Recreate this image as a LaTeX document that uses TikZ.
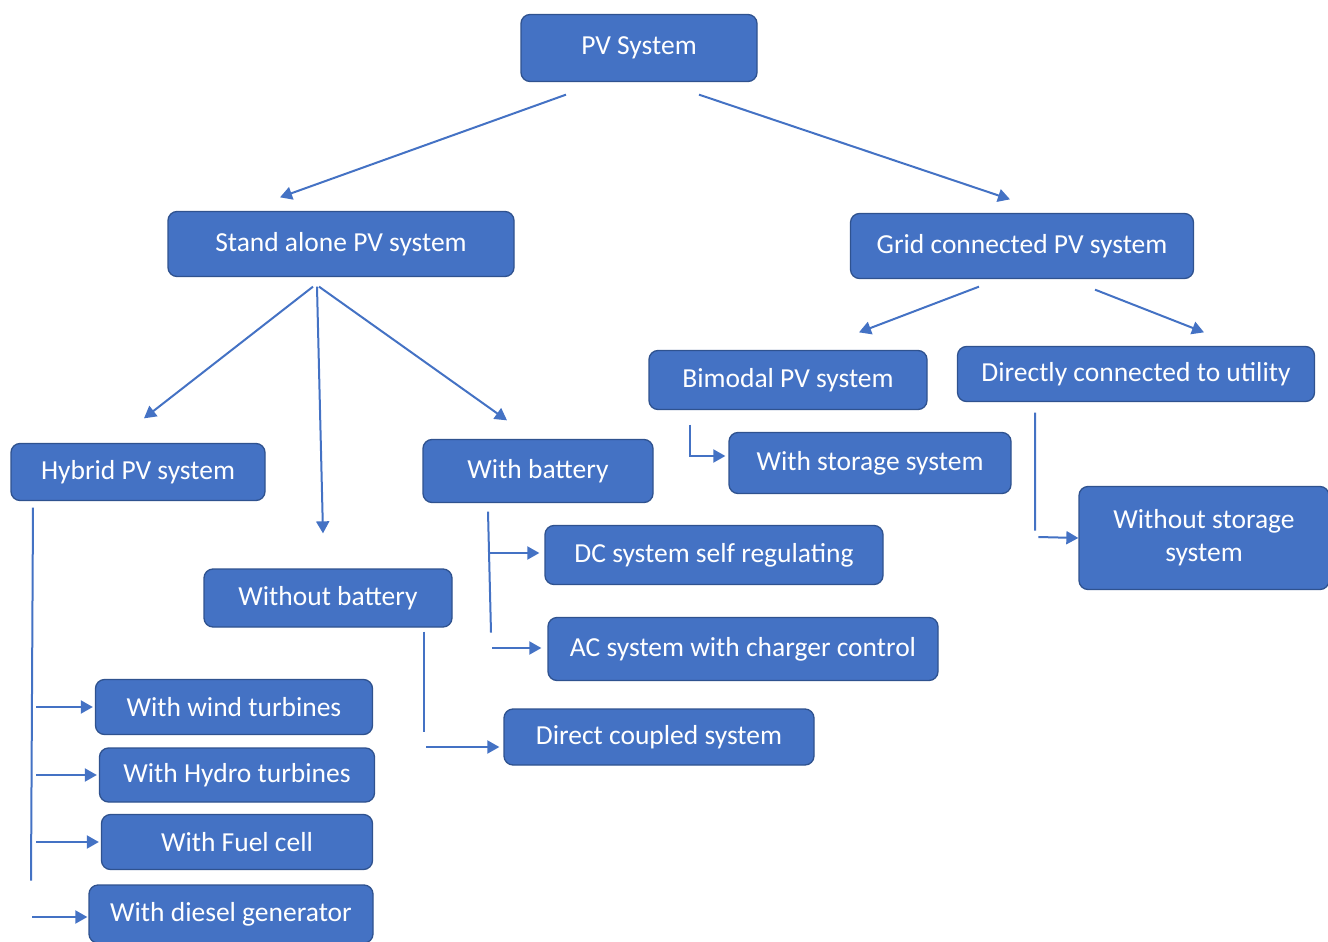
\documentclass[tikz,border=0pt]{standalone}
\usepackage{fontspec}
\setmainfont{Carlito}
\usepackage{tikz}
\usetikzlibrary{arrows.meta, positioning, calc}
\definecolor{boxblue}{RGB}{68, 114, 196}
\definecolor{edgeblue}{RGB}{47, 82, 143}

\begin{document}
\begin{tikzpicture}[x=1pt, y=-1pt, >={Triangle[length=12pt,width=13pt]},
  box/.style={draw=edgeblue, line width=1.3pt, fill=boxblue, rounded corners=9pt,
    text=white, font=\fontsize{27.5}{33}\selectfont, align=center, inner sep=2pt},
  link/.style={->, draw=boxblue, line width=2pt},
  bus/.style={draw=boxblue, line width=2pt}]
  \useasboundingbox (0,0) rectangle (1328,942);

  % Top level
  \node[box, minimum width=236pt, minimum height=67pt] (pv) at (639,48) {PV System};
  \node[box, minimum width=346pt, minimum height=65pt] (sa) at (341,244) {Stand alone PV system};
  \node[box, minimum width=343pt, minimum height=65pt] (grid) at (1022,246) {Grid connected PV system};

  % Grid connected branch
  \node[box, minimum width=278pt, minimum height=59pt] (bim) at (788,380) {Bimodal PV system};
  \node[box, minimum width=357pt, minimum height=55pt] (dir) at (1136,374) {Directly connected to utility};
  \node[box, minimum width=282pt, minimum height=61pt] (wss) at (870,463) {With storage system};
  \node[box, minimum width=250pt, minimum height=103pt] (woss) at (1204,538) {Without storage\\system};

  % Stand alone branch
  \node[box, minimum width=254pt, minimum height=57pt] (hyb) at (138,472) {Hybrid PV system};
  \node[box, minimum width=230pt, minimum height=63pt] (wb) at (538,471) {With battery};
  \node[box, minimum width=248pt, minimum height=58pt] (wob) at (328,598) {Without battery};
  \node[box, minimum width=338pt, minimum height=59pt] (dc) at (714,555) {DC system self regulating};
  \node[box, minimum width=390pt, minimum height=63pt] (ac) at (743,649) {AC system with charger control};
  \node[box, minimum width=310pt, minimum height=56pt] (dcs) at (659,737) {Direct coupled system};

  % Hybrid sources
  \node[box, minimum width=277pt, minimum height=55pt] (wind) at (234,707) {With wind turbines};
  \node[box, minimum width=275pt, minimum height=54pt] (hydro) at (237,775) {With Hydro turbines};
  \node[box, minimum width=271pt, minimum height=55pt] (fuel) at (237,842) {With Fuel cell};
  \node[box, minimum width=284pt, minimum height=58pt] (diesel) at (231,914) {With diesel generator};

  % Links from the top
  \draw[link] ($(pv.south)+(-73,12.5)$) -- ($(sa.north)+(-61,-13.5)$);
  \draw[link] ($(pv.south)+(60,12.5)$) -- ($(grid.north)+(-12,-13.5)$);

  % Stand alone to its three kinds
  \draw[link] ($(sa.south)+(-28,9.5)$) -- ($(hyb.north)+(6,-24.5)$);
  \draw[link] ($(sa.south)+(-24,9.5)$) -- ($(wob.north)+(-5,-35)$);
  \draw[link] ($(sa.south)+(-22,9.5)$) -- ($(wb.north)+(-31,-18.5)$);

  % Grid connected to its two kinds
  \draw[link] ($(grid.south)+(-43,7.5)$) -- ($(bim.north)+(71,-17.5)$);
  \draw[link] ($(grid.south)+(73,10.5)$) -- ($(dir.north)+(68,-13.5)$);

  % Elbow links
  \draw[link] ($(bim.south)+(-98,14.5)$) |- ($(wss.west)+(-3,-7)$);
  \draw[link] ($(dir.south)+(-101,10.5)$) -- ++(0,118) ($(woss.west)+(-40,-1)$) -- (woss.west);
  \draw[link] ($(wob.south)+(96,4)$) -- ++(0,100) ($(dcs.west)+(-77,10)$) -- ($(dcs.west)+(-4,10)$);

  % With battery bus
  \coordinate (wbbus) at ($(wb.south)+(-50,8.5)$);
  \draw[bus] (wbbus) -- ++(3,121);
  \draw[link] ($(dc.west)+(-55,-2)$) -- ($(dc.west)+(-5,-2)$);
  \draw[link] ($(ac.west)+(-55,-1)$) -- ($(ac.west)+(-6,-1)$);

  % Hybrid bus
  \coordinate (hybbus) at ($(hyb.south)+(-105,6.5)$);
  \draw[bus] (hybbus) -- ++(-2,373);
  \foreach \n in {wind, hydro, fuel}
    \draw[link] ([xshift=3pt]hybbus |- \n.west) -- ([xshift=-2pt]\n.west);
  \draw[link] ($(diesel.west)+(-56,3)$) -- ($(diesel.west)+(-1,3)$);
\end{tikzpicture}
\end{document}
